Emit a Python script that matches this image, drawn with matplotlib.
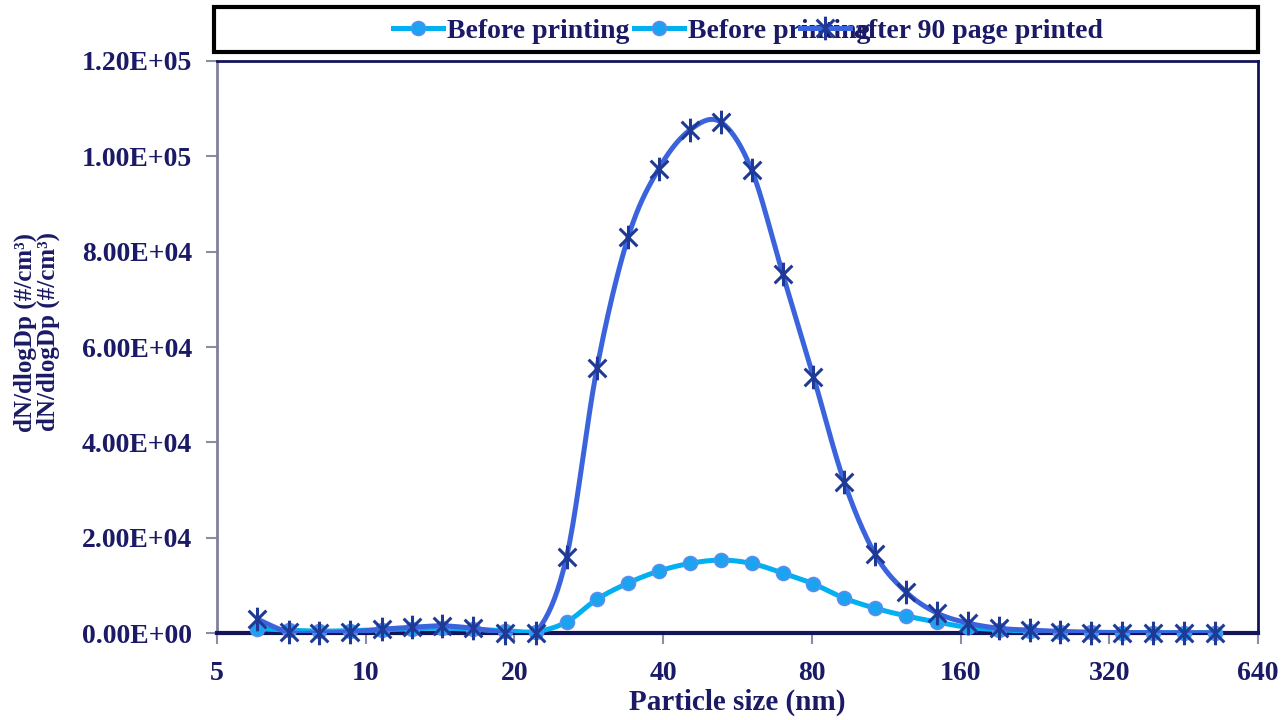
import numpy as np
import matplotlib.pyplot as plt
from matplotlib.path import Path
from matplotlib.lines import Line2D
from matplotlib.patches import Rectangle

# particle size channels (nm)
sizes = [6.04, 6.98, 8.06, 9.31, 10.8, 12.4, 14.3, 16.5, 19.1, 22.1,
         25.5, 29.4, 34.0, 39.2, 45.3, 52.3, 60.4, 69.8, 80.6, 93.1,
         107.5, 124.1, 143.3, 165.5, 191.1, 220.7, 254.8, 294.3, 339.8,
         392.4, 453.2, 523.3]
before = [900, 600, 400, 500, 700, 900, 1000, 800, 500, 300,
          2300, 7100, 10500, 13000, 14600, 15300, 14600, 12600, 10300, 7300,
          5200, 3600, 2300, 1200, 700, 400, 300, 200, 100,
          100, 50, 50]
after = [2900, 200, 0, 200, 800, 1200, 1500, 1000, 100, 100,
         15900, 55700, 83100, 97400, 105500, 107200, 97200, 75400, 53800, 31600,
         16500, 8600, 4200, 2100, 1000, 600, 300, 100, 100,
         50, 50, 50]
xticks = [5, 10, 20, 40, 80, 160, 320, 640]
yticks = [0, 20000, 40000, 60000, 80000, 100000, 120000]
labels = ['Before printing', 'Before printing', 'after 90 page printed']
ylab = 'dN/dlogDp (#/cm\u00b3)'

navy = '#1a1a66'
c_before = '#00b0f0'
c_after = '#3b64dc'

plt.rcParams['font.family'] = ['Liberation Serif', 'DejaVu Serif']
plt.rcParams['font.weight'] = 'bold'

# excel like star: vertical bar + x
star = Path([(0, -1), (0, 1), (-0.75, -0.75), (0.75, 0.75), (-0.75, 0.75), (0.75, -0.75)],
            [Path.MOVETO, Path.LINETO, Path.MOVETO, Path.LINETO, Path.MOVETO, Path.LINETO])


def smooth(x, y, n=20):
    # catmull-rom through the points, in log2(x) space
    lx = np.log2(np.asarray(x, float))
    y = np.asarray(y, float)
    P = np.column_stack([lx, y])
    P = np.vstack([P[0], P, P[-1]])
    out = []
    t = np.linspace(0, 1, n, endpoint=False)[:, None]
    for i in range(1, len(P) - 2):
        p0, p1, p2, p3 = P[i - 1], P[i], P[i + 1], P[i + 2]
        c1 = p1 + (p2 - p0) / 6
        c2 = p2 - (p3 - p1) / 6
        seg = ((1 - t) ** 3) * p1 + 3 * ((1 - t) ** 2) * t * c1 + 3 * (1 - t) * t ** 2 * c2 + t ** 3 * p2
        out.append(seg)
    out.append(P[-2][None, :])
    out = np.vstack(out)
    return 2 ** out[:, 0], out[:, 1]


fig = plt.figure(figsize=(12.83, 7.2), dpi=100)
ax = fig.add_axes([0.1691, 0.1208, 0.8114, 0.7945])

mk_before = dict(marker='o', ms=10, mfc='#1aa3ee', mec='#5b8def', mew=1.2)
mk_after = dict(marker=star, ms=17, mec='#1e3a96', mfc='none', mew=2.2)

sx, sy = smooth(sizes, before)
ax.plot(sx, sy, color=c_before, lw=3.6, solid_capstyle='round', zorder=3)
ax.plot(sizes, before, ls='none', clip_on=False, zorder=4, **mk_before)

sx, sy = smooth(sizes, after)
ax.plot(sx, sy, color=c_after, lw=3.6, solid_capstyle='round', zorder=5)
ax.plot(sizes, after, ls='none', clip_on=False, zorder=6, **mk_after)

ax.set_xscale('log', base=2)
ax.set_xlim(5, 640)
ax.set_ylim(0, 120000)
ax.set_xticks(xticks)
ax.set_xticklabels([str(v) for v in xticks])
ax.minorticks_off()
ax.set_yticks(yticks)
ax.set_yticklabels(['{:.2E}'.format(v) for v in yticks])
ax.tick_params(axis='both', labelsize=20, colors='#8c8ca8', labelcolor=navy,
               length=8, width=1.5, direction='out')
ax.tick_params(axis='y', pad=10)
ax.tick_params(axis='x', pad=12)

for s in ['top', 'right', 'bottom']:
    ax.spines[s].set_color('#14145a')
    ax.spines[s].set_linewidth(2)
ax.spines['bottom'].set_linewidth(3)
ax.spines['left'].set_color('#8080a0')
ax.spines['left'].set_linewidth(2)

ax.set_xlabel('Particle size (nm)', fontsize=21, fontweight='bold', color=navy, labelpad=2)
fig.text(0.0195, 0.5375, ylab, rotation=90, fontsize=18, color=navy, ha='center', va='center')
fig.text(0.038, 0.54, ylab, rotation=90, fontsize=18, color=navy, ha='center', va='center')

# legend box across the top
fig.patches.append(Rectangle((214 / 1283, 1 - 52 / 720), (1258 - 214) / 1283, 45 / 720,
                             transform=fig.transFigure, fill=False, ec='black', lw=3))
h1 = Line2D([], [], color=c_before, lw=3.6, **mk_before)
h2 = Line2D([], [], color=c_before, lw=3.6, **mk_before)
h3 = Line2D([], [], color=c_after, lw=3.6, **mk_after)
leg_a = fig.legend([h1, h2], labels[:2], loc='center left', bbox_to_anchor=(393 / 1283, 1 - 31 / 720),
                   ncol=2, frameon=False, fontsize=20, handlelength=1.8, handletextpad=0.15,
                   columnspacing=0.15, borderpad=0, borderaxespad=0, labelcolor=navy)
leg_b = fig.legend([h3], labels[2:], loc='center left', bbox_to_anchor=(800 / 1283, 1 - 31 / 720),
                   frameon=False, fontsize=20, handlelength=1.8, handletextpad=0.15,
                   borderpad=0, borderaxespad=0, labelcolor=navy)

plt.savefig('out.png', dpi=100)
